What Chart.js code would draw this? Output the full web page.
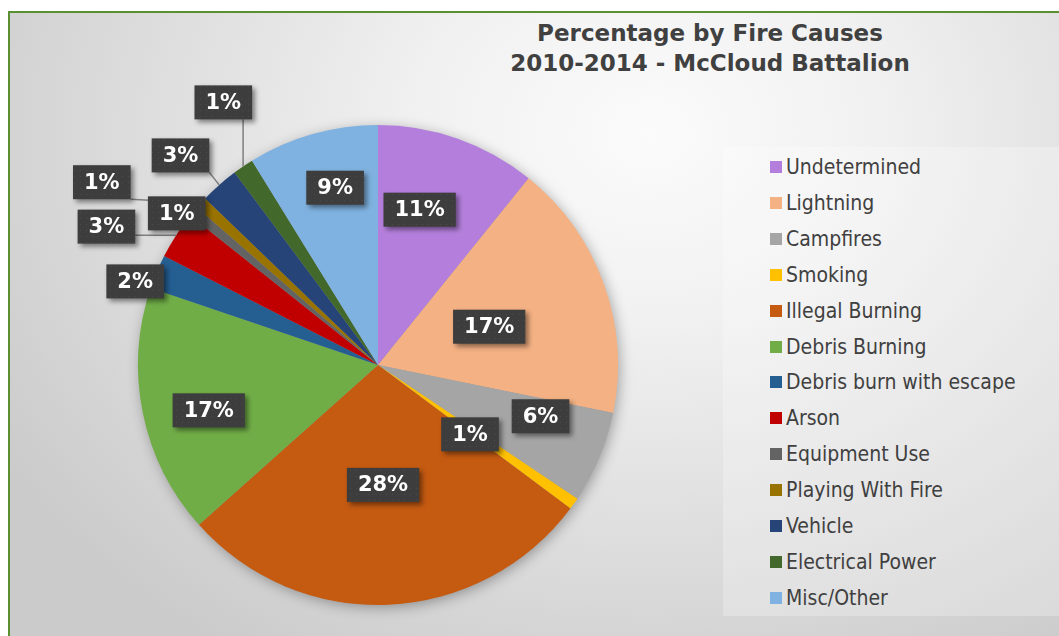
<!DOCTYPE html>
<html>
<head>
<meta charset="utf-8">
<script src="https://cdn.jsdelivr.net/npm/chart.js@4.4.1/dist/chart.umd.min.js"></script>
<style>
  html, body { margin: 0; padding: 0; background: #fff; }
  #wrap { position: relative; width: 1059px; height: 636px; overflow: hidden; }
  #frame {
    position: absolute; left: 8px; top: 11px; width: 1100px; height: 700px;
    border-left: 2px solid #5a9032; border-top: 2px solid #5a9032;
    background: radial-gradient(ellipse 760px 620px at 640px 120px, #fbfbfb 0%, #f1f1f1 30%, #dedede 65%, #cbcbcb 100%);
  }
  #legendBox {
    position: absolute; left: 723px; top: 147px; width: 340px; height: 469px;
    background: rgba(255,255,255,0.25);
  }
  #title {
    position: absolute; left: 360px; top: 18px; width: 700px; text-align: center;
    font: bold 23px "DejaVu Sans", sans-serif; line-height: 30px; color: #404040;
  }
  .lg { position: absolute; left: 770px; height: 36px; line-height: 36px;
        font: 21px "DejaVu Sans Condensed", "DejaVu Sans", sans-serif; color: #404040; white-space: nowrap; }
  .lg i { position: absolute; left: 0; top: 13px; width: 12px; height: 12px; }
  .lg span { position: absolute; left: 16px; top: 7px; }
  canvas { position: absolute; left: 0; top: 0; }
</style>
</head>
<body>
<div id="wrap">
  <div id="frame"></div>
  <div id="legendBox"></div>
  <div id="title">Percentage by Fire Causes<br>2010-2014 - McCloud Battalion</div>
  <div id="legend"></div>
  <canvas id="chartPie" width="1059" height="636"></canvas>
</div>
<script>
// dados (percentual estimado de cada causa)
const causas = ['Undetermined', 'Lightning', 'Campfires', 'Smoking', 'Illegal Burning', 'Debris Burning',
  'Debris burn with escape', 'Arson', 'Equipment Use', 'Playing With Fire', 'Vehicle', 'Electrical Power', 'Misc/Other'];
const percentuais = [10.8, 17.4, 6.2, 0.8, 28.2, 16.8, 2.3, 3.2, 0.7, 0.8, 2.6, 1.4, 8.8];
const cores = ['#b47fdc', '#f4b183', '#a5a5a5', '#ffc000', '#c55a11', '#70ad47',
  '#255e91', '#c00000', '#636363', '#997300', '#264478', '#43682b', '#7fb2e0'];

// posicao dos rotulos: [angulo em graus a partir do topo, fator do raio]
const posRotulos = [[15, 0.67], [71, 0.49], [107.5, 0.71], [127, 0.48], [177.6, 0.5], [255, 0.73],
  [289, 1.07], [297, 1.27], [307, 1.05], [303.5, 1.38], [316.7, 1.2], [329.5, 1.27], [346.4, 0.76]];

// legenda
const legendEl = document.getElementById('legend');
legendEl.innerHTML = causas.map((c, i) =>
  `<div class="lg" style="top:${148 + i * 35.9}px"><i style="background:${cores[i]}"></i><span>${c}</span></div>`).join('');

// padrao pontilhado das caixas
function criarPadrao(ctx) {
  const p = document.createElement('canvas');
  p.width = 6; p.height = 6;
  const pc = p.getContext('2d');
  pc.fillStyle = '#3d3d3d'; pc.fillRect(0, 0, 6, 6);
  pc.fillStyle = '#4b4b4b'; pc.fillRect(2, 2, 1, 1);
  return ctx.createPattern(p, 'repeat');
}

const sombraPizza = {
  id: 'sombraPizza',
  beforeDatasetsDraw(chart) {
    const arc = chart.getDatasetMeta(0).data[0];
    if (!arc) return;
    const ctx = chart.ctx;
    ctx.save();
    ctx.shadowColor = 'rgba(0,0,0,0.35)';
    ctx.shadowBlur = 14;
    ctx.shadowOffsetX = 2;
    ctx.shadowOffsetY = 3;
    ctx.fillStyle = '#999';
    ctx.beginPath();
    ctx.arc(arc.x, arc.y, arc.outerRadius - 1, 0, Math.PI * 2);
    ctx.fill();
    ctx.restore();
  }
};

const rotulos = {
  id: 'rotulos',
  afterDatasetsDraw(chart) {
    const ctx = chart.ctx;
    const meta = chart.getDatasetMeta(0);
    const padrao = criarPadrao(ctx);
    ctx.save();
    ctx.font = 'bold 21px "DejaVu Sans", sans-serif';
    const caixas = meta.data.map((arc, i) => {
      const [ang, f] = posRotulos[i];
      const a = ang * Math.PI / 180;
      const cx = arc.x + Math.sin(a) * arc.outerRadius * f;
      const cy = arc.y - Math.cos(a) * arc.outerRadius * f;
      const txt = Math.round(percentuais[i]) + '%';
      const w = ctx.measureText(txt).width + 22;
      const h = 34;
      return { arc, f, txt, x: cx - w / 2, y: cy - h / 2, w, h, cx, cy };
    });

    // linhas de chamada
    ctx.strokeStyle = '#7f7f7f';
    ctx.lineWidth = 1.5;
    caixas.forEach(b => {
      if (b.f < 1.1) return;
      const meio = (b.arc.startAngle + b.arc.endAngle) / 2;
      const px = b.arc.x + Math.cos(meio) * b.arc.outerRadius;
      const py = b.arc.y + Math.sin(meio) * b.arc.outerRadius;
      const qx = Math.min(Math.max(px, b.x), b.x + b.w);
      const qy = Math.min(Math.max(py, b.y), b.y + b.h);
      ctx.beginPath();
      ctx.moveTo(px, py);
      ctx.lineTo(qx, qy);
      ctx.stroke();
    });

    // caixas
    caixas.forEach(b => {
      ctx.save();
      ctx.shadowColor = 'rgba(0,0,0,0.45)';
      ctx.shadowBlur = 5;
      ctx.shadowOffsetX = 3;
      ctx.shadowOffsetY = 3;
      ctx.fillStyle = padrao;
      ctx.fillRect(b.x, b.y, b.w, b.h);
      ctx.restore();
      ctx.fillStyle = '#ffffff';
      ctx.textAlign = 'center';
      ctx.textBaseline = 'middle';
      ctx.fillText(b.txt, b.cx, b.cy + 1);
    });
    ctx.restore();
  }
};

new Chart(document.getElementById('chartPie'), {
  type: 'pie',
  data: {
    labels: causas,
    datasets: [{
      data: percentuais,
      backgroundColor: cores,
      borderWidth: 0,
      hoverOffset: 0
    }]
  },
  options: {
    responsive: false,
    animation: false,
    layout: { padding: { left: 138, top: 125, right: 441, bottom: 31 } },
    plugins: { legend: { display: false }, tooltip: { enabled: false } }
  },
  plugins: [sombraPizza, rotulos]
});
</script>
</body>
</html>
